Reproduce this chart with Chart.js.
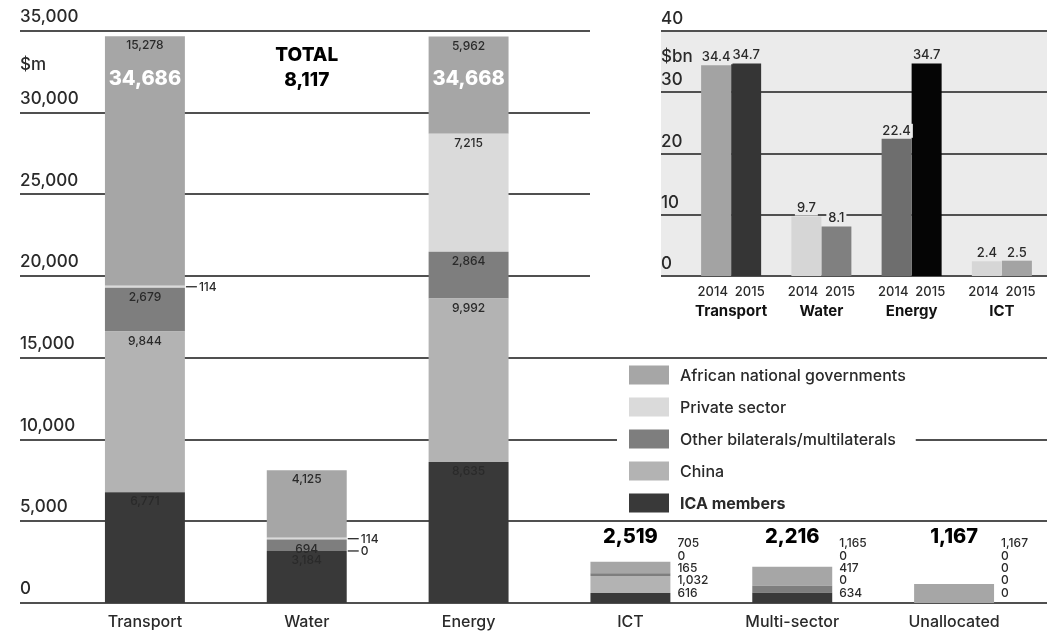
<!DOCTYPE html>
<html>
<head>
<meta charset="utf-8">
<script src="https://cdn.jsdelivr.net/npm/chart.js@4/dist/chart.umd.min.js"></script>
<style>
  html, body { margin: 0; padding: 0; background: #fff; overflow: hidden; }
  #wrap { position: relative; width: 1047px; height: 632px; }
  #main { position: absolute; left: 0; top: 0; }
  #inset { position: absolute; left: 600px; top: 0; }
</style>
</head>
<body>
<div id="wrap">
  <canvas id="main" width="1047" height="632"></canvas>
  <canvas id="inset" width="447" height="330"></canvas>
</div>
<script>
// Infrastructure financing commitments by sector and source, $m
const categories = ['Transport', 'Water', 'Energy', 'ICT', 'Multi-sector', 'Unallocated'];
const icaMembers         = [6771, 3184, 8635, 616, 634, 0];
const china              = [9844, 0, 9992, 1032, 0, 0];
const otherBilaterals    = [2679, 694, 2864, 165, 417, 0];
const privateSector      = [114, 114, 7215, 0, 0, 0];
const africanGovernments = [15278, 4125, 5962, 705, 1165, 1167];
const sectorTotals       = [34686, 8117, 34668, 2519, 2216, 1167];
const mainTicks          = [0, 5000, 10000, 15000, 20000, 25000, 30000, 35000];

// Year-on-year comparison, $bn
const insetSectors    = ['Transport', 'Water', 'Energy', 'ICT'];
const yearLabels      = ['2014', '2015'];
const commitments2014 = [34.4, 9.7, 22.4, 2.4];
const commitments2015 = [34.7, 8.1, 34.7, 2.5];
const insetTicks      = [0, 10, 20, 30, 40];

const FONT = 'Inter, "Noto Sans", "DejaVu Sans", sans-serif';
const INK = '#2a2a2a';
const RULE = '#505050';

// Stack order bottom to top; legend lists them top to bottom
const series = [
  { label: 'ICA members', data: icaMembers, color: '#393939' },
  { label: 'China', data: china, color: '#b3b3b3' },
  { label: 'Other bilaterals/multilaterals', data: otherBilaterals, color: '#7e7e7e' },
  { label: 'Private sector', data: privateSector, color: '#dadada' },
  { label: 'African national governments', data: africanGovernments, color: '#a6a6a6' }
];

const fmt = v => v.toLocaleString('en-US');

const mainDecor = {
  id: 'mainDecor',
  beforeDatasetsDraw(chart) {
    const { ctx, scales: { y } } = chart;
    ctx.save();
    // horizontal rules: upper ones stop short of the inset panel
    ctx.strokeStyle = RULE;
    ctx.lineWidth = 2;
    mainTicks.forEach(t => {
      const py = Math.round(y.getPixelForValue(t));
      const xEnd = t >= 20000 ? 590 : 1047;
      ctx.beginPath();
      ctx.moveTo(20, py);
      ctx.lineTo(xEnd, py);
      ctx.stroke();
    });
    // legend
    const lx = 629, ly0 = 375, step = 32;
    const legendRows = series.slice().reverse();
    const legendFont = i => (i === legendRows.length - 1 ? '700 ' : '500 ') + '16px ' + FONT;
    let widest = 0;
    legendRows.forEach((s, i) => {
      ctx.font = legendFont(i);
      widest = Math.max(widest, ctx.measureText(s.label).width);
    });
    ctx.fillStyle = '#fff';
    ctx.fillRect(lx - 12, ly0 - 14, 51 + widest + 22, step * 4 + 28);
    legendRows.forEach((s, i) => {
      const cy = ly0 + i * step;
      ctx.fillStyle = s.color;
      ctx.fillRect(lx, cy - 9.5, 40, 19);
      ctx.fillStyle = INK;
      ctx.font = legendFont(i);
      ctx.textAlign = 'left';
      ctx.textBaseline = 'middle';
      ctx.fillText(s.label, lx + 51, cy + 1);
    });
    // unit
    ctx.font = '500 17px ' + FONT;
    ctx.fillStyle = INK;
    ctx.fillText('$m', 20, chart.chartArea.top + 34);
    ctx.restore();
  },
  afterDatasetsDraw(chart) {
    const { ctx, chartArea, scales: { y } } = chart;
    ctx.save();
    ctx.textBaseline = 'middle';
    categories.forEach((cat, j) => {
      const bars = series.map((s, i) => chart.getDatasetMeta(i).data[j]);
      const xc = bars[0].x;
      const right = xc + bars[0].width / 2;
      if (j < 3) {
        series.forEach((s, i) => {
          const el = bars[i];
          const v = s.data[j];
          ctx.fillStyle = INK;
          ctx.font = '500 12px ' + FONT;
          if (v < 200) {
            const my = (el.y + el.base) / 2;
            ctx.strokeStyle = INK;
            ctx.lineWidth = 1.3;
            ctx.beginPath();
            ctx.moveTo(right + 1, my);
            ctx.lineTo(right + 12, my);
            ctx.stroke();
            ctx.textAlign = 'left';
            ctx.fillText(fmt(v), right + 14, my + 0.5);
          } else {
            ctx.textAlign = 'center';
            ctx.fillText(fmt(v), xc, el.y + 9.5);
          }
        });
        ctx.textAlign = 'center';
        if (j === 1) {
          ctx.fillStyle = '#000';
          ctx.font = '800 19px ' + FONT;
          ctx.fillText('TOTAL', xc, chartArea.top + 24);
          ctx.fillText(fmt(sectorTotals[j]), xc, chartArea.top + 49);
        } else {
          ctx.fillStyle = '#fff';
          ctx.font = '800 20px ' + FONT;
          ctx.fillText(fmt(sectorTotals[j]), xc, chartArea.top + 48);
        }
      } else {
        // small sectors: stacked value list beside the bar, total above
        ctx.fillStyle = INK;
        ctx.font = '500 12px ' + FONT;
        ctx.textAlign = 'left';
        series.forEach((s, i) => {
          ctx.fillText(fmt(s.data[j]), right + 7, y.bottom - 10 - i * 12.3);
        });
        ctx.fillStyle = '#000';
        ctx.font = '800 20px ' + FONT;
        ctx.textAlign = 'center';
        ctx.fillText(fmt(sectorTotals[j]), xc, y.bottom - 66);
      }
    });
    ctx.restore();
  }
};

new Chart(document.getElementById('main'), {
  type: 'bar',
  data: {
    labels: categories,
    datasets: series.map(s => ({
      label: s.label,
      data: s.data,
      backgroundColor: s.color,
      borderWidth: 0,
      categoryPercentage: 1,
      barPercentage: 0.494
    }))
  },
  options: {
    responsive: false,
    animation: false,
    devicePixelRatio: 1,
    layout: { padding: { left: 20, right: 12, top: 31, bottom: 0 } },
    plugins: { legend: { display: false }, tooltip: { enabled: false } },
    scales: {
      x: {
        stacked: true,
        offset: true,
        grid: { display: false, drawTicks: false },
        border: { display: false },
        ticks: { color: INK, font: { family: FONT, size: 16, weight: '500' }, padding: 10, maxRotation: 0, autoSkip: false },
        afterFit(scale) { scale.height = 29; }
      },
      y: {
        stacked: true,
        min: 0,
        max: 35000,
        grid: { display: false, drawTicks: false },
        border: { display: false },
        ticks: {
          stepSize: 5000,
          autoSkip: false,
          mirror: true,
          crossAlign: 'near',
          padding: -44,
          labelOffset: -14,
          color: INK,
          font: { family: FONT, size: 17, weight: '500' },
          callback: v => fmt(v)
        },
        afterFit(scale) { scale.width = 44; }
      }
    }
  },
  plugins: [mainDecor]
});

// Inset: 2014 vs 2015 totals
const insetColors2014 = ['#a3a3a3', '#d6d6d6', '#6e6e6e', '#d6d6d6'];
const insetColors2015 = ['#353535', '#808080', '#050505', '#a3a3a3'];
const PANEL = '#ebebeb';

const insetDecor = {
  id: 'insetDecor',
  beforeDraw(chart) {
    const { ctx, chartArea, scales: { y } } = chart;
    ctx.save();
    ctx.fillStyle = PANEL;
    ctx.fillRect(y.left, chartArea.top, chartArea.right - y.left, chartArea.bottom - chartArea.top);
    ctx.restore();
  },
  beforeDatasetsDraw(chart) {
    const { ctx, chartArea, scales: { y } } = chart;
    ctx.save();
    ctx.strokeStyle = RULE;
    ctx.lineWidth = 2;
    insetTicks.forEach(t => {
      const py = Math.round(y.getPixelForValue(t));
      ctx.beginPath();
      ctx.moveTo(y.left, py);
      ctx.lineTo(chartArea.right, py);
      ctx.stroke();
    });
    ctx.fillStyle = INK;
    ctx.font = '500 17px ' + FONT;
    ctx.textBaseline = 'middle';
    ctx.textAlign = 'left';
    ctx.fillText('$bn', y.left, chartArea.top + 26);
    ctx.restore();
  },
  afterDatasetsDraw(chart) {
    const { ctx } = chart;
    ctx.save();
    ctx.font = '500 13px ' + FONT;
    ctx.textAlign = 'center';
    ctx.textBaseline = 'middle';
    chart.data.datasets.forEach((ds, i) => {
      chart.getDatasetMeta(i).data.forEach((el, j) => {
        const txt = ds.data[j].toFixed(1);
        const w = ctx.measureText(txt).width;
        const ty = el.y - 8;
        ctx.fillStyle = PANEL;
        ctx.fillRect(el.x - w / 2 - 2, ty - 7, w + 4, 14);
        ctx.fillStyle = INK;
        ctx.fillText(txt, el.x, ty);
      });
    });
    ctx.restore();
  }
};

new Chart(document.getElementById('inset'), {
  type: 'bar',
  data: {
    labels: insetSectors,
    datasets: [
      { label: yearLabels[0], data: commitments2014, backgroundColor: insetColors2014, borderWidth: 0, categoryPercentage: 0.665, barPercentage: 1 },
      { label: yearLabels[1], data: commitments2015, backgroundColor: insetColors2015, borderWidth: 0, categoryPercentage: 0.665, barPercentage: 1 }
    ]
  },
  options: {
    responsive: false,
    animation: false,
    devicePixelRatio: 1,
    layout: { padding: { left: 61, right: 0, top: 31, bottom: 9 } },
    plugins: { legend: { display: false }, tooltip: { enabled: false } },
    scales: {
      x: {
        offset: true,
        grid: { display: false, drawTicks: false },
        border: { display: false },
        ticks: {
          color: INK,
          font: { family: FONT, size: 13, weight: '500' },
          padding: 8,
          maxRotation: 0,
          autoSkip: false,
          callback: () => yearLabels.join('  ')
        },
        afterFit(scale) { scale.height = 25; }
      },
      sector: {
        type: 'category',
        position: 'bottom',
        labels: insetSectors,
        offset: true,
        grid: { display: false, drawTicks: false },
        border: { display: false },
        ticks: { color: '#111', font: { family: FONT, size: 15, weight: '700' }, padding: 1, maxRotation: 0, autoSkip: false },
        afterFit(scale) { scale.height = 20; }
      },
      y: {
        min: 0,
        max: 40,
        grid: { display: false, drawTicks: false },
        border: { display: false },
        ticks: {
          stepSize: 10,
          mirror: true,
          crossAlign: 'near',
          padding: -25,
          labelOffset: -12,
          color: INK,
          font: { family: FONT, size: 17, weight: '500' }
        },
        afterFit(scale) { scale.width = 25; }
      }
    }
  },
  plugins: [insetDecor]
});
</script>
</body>
</html>
